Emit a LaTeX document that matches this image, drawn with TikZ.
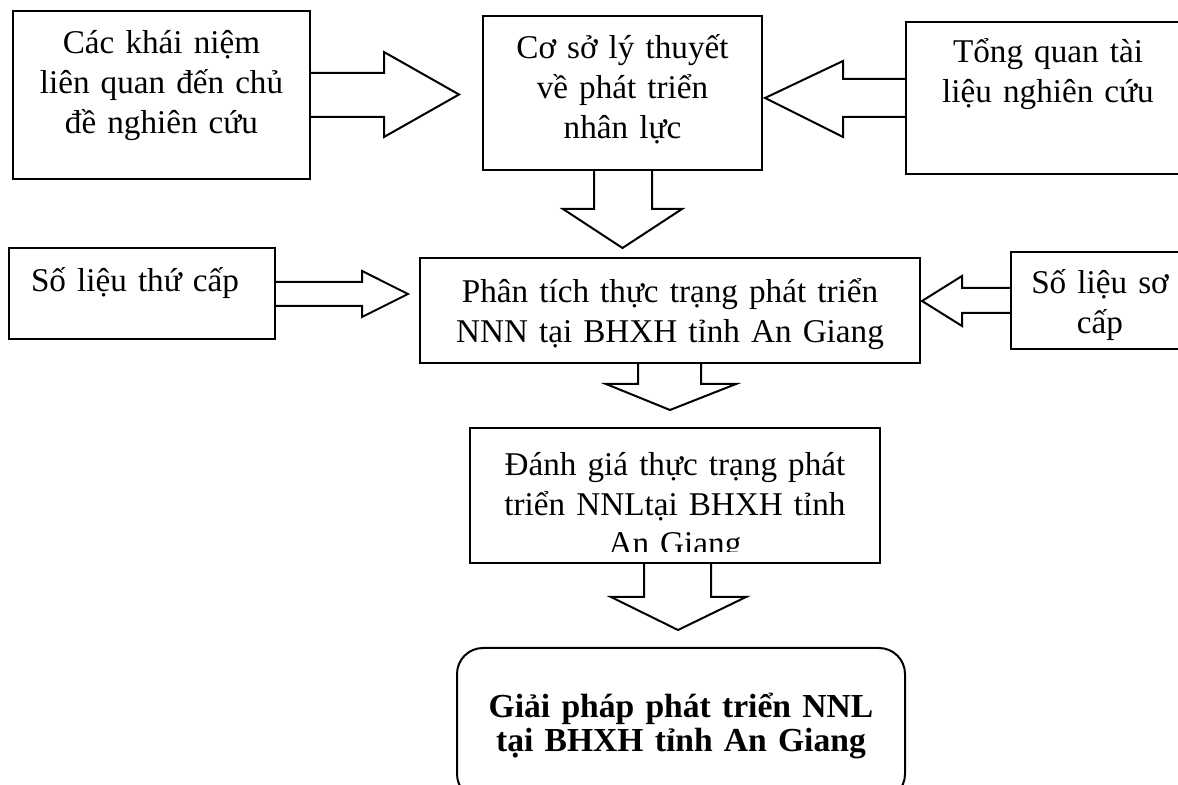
\documentclass[tikz,border=0pt]{standalone}
\usepackage{fontspec}
\setmainfont{Liberation Serif}
\usetikzlibrary{fit}
\begin{document}
\begin{tikzpicture}[x=0.5pt,y=-0.5pt,
  box/.style={draw, line width=1pt, fill=white, inner sep=0pt, outer sep=0pt},
  txt/.style={text width=300pt, align=center, inner sep=0pt, anchor=base,
              font=\fontsize{16.6}{20}\selectfont},
  btxt/.style={txt, font=\fontsize{16.8}{17}\selectfont\bfseries},
  blk/.style={draw, line width=1pt, line join=miter}]
\clip (0,0) rectangle (1178,785);
\useasboundingbox (0,0) rectangle (1178,785);

% boxes
\node[box, fit={(13,11) (310,179)}] (b1) {};
\node[box, fit={(483,16) (762,170)}] (b2) {};
\node[box, fit={(906,22) (1190,174)}] (b3) {};
\node[box, fit={(9,248) (275,339)}] (b4) {};
\node[box, fit={(420,258) (920,363)}] (b5) {};
\node[box, fit={(1011,252) (1190,349)}] (b6) {};
\node[box, fit={(470,428) (880,563)}] (b7) {};
\node[box, rounded corners=13pt, fit={(457,648) (905,800)}] (b8) {};

% block arrows
\draw[blk] (b1.east |- 0,73) -- (384,73) -- (384,52) -- (459,94.5) -- (384,137) -- (384,117) -- (b1.east |- 0,117);
\draw[blk] (b3.west |- 0,79) -- (843,79) -- (843,61) -- (765,98) -- (843,137) -- (843,117) -- (b3.west |- 0,117);
\draw[blk] (b2.south -| 594,0) -- (594,209) -- (563,209) -- (622.5,248) -- (682,209) -- (652,209) -- (b2.south -| 652,0);
\draw[blk] (b4.east |- 0,282) -- (362,282) -- (362,271) -- (408,294) -- (362,317) -- (362,306) -- (b4.east |- 0,306);
\draw[blk] (b6.west |- 0,288) -- (962,288) -- (962,276) -- (922,301) -- (962,326) -- (962,313) -- (b6.west |- 0,313);
\draw[blk] (b5.south -| 638,0) -- (638,384) -- (606,384) -- (670,410) -- (736,384) -- (701,384) -- (b5.south -| 701,0);
\draw[blk] (b7.south -| 644,0) -- (644,597) -- (611,597) -- (678,630) -- (746,597) -- (711,597) -- (b7.south -| 711,0);

% texts
\node[txt] (t1) at (161.5,54) {Các khái niệm\\liên quan đến chủ\\đề nghiên cứu};
\node[txt] (t2) at (622.5,59) {Cơ sở lý thuyết\\về phát triển\\nhân lực};
\node[txt] (t3) at (1048,63) {Tổng quan tài\\liệu nghiên cứu};
\node[txt] (t4) at (135,292) {Số liệu thứ cấp};
\node[txt] (t5) at (670,303) {Phân tích thực trạng phát triển\\NNN tại BHXH tỉnh An Giang};
\node[txt] (t6) at (1100,294) {Số liệu sơ\\cấp};
\begin{scope}
\clip (470,428) rectangle (880,552);
\node[txt, font=\fontsize{16.6}{19.6}\selectfont] (t7) at (675,476) {Đánh giá thực trạng phát\\triển NNLtại BHXH tỉnh\\An Giang};
\end{scope}
\node[btxt] (t8) at (681,718) {Giải pháp phát triển NNL\\tại BHXH tỉnh An Giang};
\end{tikzpicture}
\end{document}
